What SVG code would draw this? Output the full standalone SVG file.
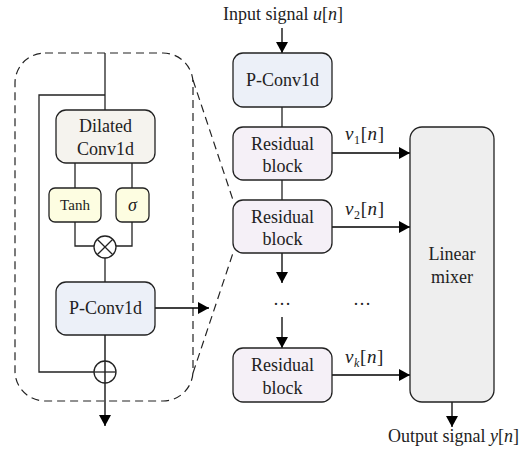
<svg xmlns="http://www.w3.org/2000/svg" width="532" height="451" viewBox="0 0 532 451">
<defs>
<marker id="ah" markerUnits="userSpaceOnUse" markerWidth="12" markerHeight="12" refX="11" refY="6" orient="auto">
<path d="M0,0 L11,6 L0,12 Z" fill="#000"/>
</marker>
<style>
.box{stroke:#222;stroke-width:1.3}
.pc{fill:#ECF0F8}
.rb{fill:#F5F0F7}
.dc{fill:#F5F3EE}
.yl{fill:#FDFDE1}
.lm{fill:#EEEEEE}
text{font-family:"Liberation Serif","Times New Roman",serif;font-size:18px;fill:#222}
.c{text-anchor:middle}
.ln{fill:none;stroke:#222;stroke-width:1.3}
.ar{fill:none;stroke:#000;stroke-width:1.3;marker-end:url(#ah)}
.da{fill:none;stroke:#222;stroke-width:1.2;stroke-dasharray:8 5}
.i{font-style:italic}
.sub{font-size:12px}
.m{font-size:19px;letter-spacing:0.6px}
</style>
</defs>
<g id="dashed-frame">
<rect x="15" y="53" width="178" height="348" rx="30" class="da"/>
<path d="M193,80 L233,200" class="da"/>
<path d="M193,373 L233,253" class="da"/>
</g>
<g id="connectors">
<path d="M105,53 V110" class="ln"/>
<path d="M105,95 H39 V372 H94" class="ln"/>
<path d="M75,163 V188" class="ln"/>
<path d="M132,163 V188" class="ln"/>
<path d="M75,222 V246 H94" class="ln"/>
<path d="M132,222 V246 H116" class="ln"/>
<path d="M105,258 V282" class="ln"/>
<path d="M105,335 V426" class="ar"/>
<path d="M155,308 H209" class="ar"/>
<path d="M282,28 V53" class="ar"/>
<path d="M282,107 V127" class="ln"/>
<path d="M282,180 V200" class="ln"/>
<path d="M282,253 V283" class="ar"/>
<path d="M282,317 V348" class="ar"/>
<path d="M332,153 H410" class="ar"/>
<path d="M332,227 H410" class="ar"/>
<path d="M332,375 H410" class="ar"/>
<path d="M452,402 V427" class="ar"/>
</g>
<g id="dilated-conv1d">
<rect x="56" y="110" width="99" height="53" rx="10" class="box dc"/>
<text x="105.5" y="132" class="c">Dilated</text>
<text x="105.5" y="155" class="c">Conv1d</text>
</g>
<g id="tanh">
<rect x="49" y="188" width="52" height="34" rx="6" class="box yl"/>
<text x="75" y="210" class="c" style="font-size:15px">Tanh</text>
</g>
<g id="sigma">
<rect x="116" y="188" width="33" height="34" rx="6" class="box yl"/>
<text x="132.5" y="211" class="c i">σ</text>
</g>
<g id="multiply">
<circle cx="105" cy="247" r="11" fill="#fff" class="box"/>
<path d="M97.2,239.2 L112.8,254.8 M112.8,239.2 L97.2,254.8" class="ln"/>
</g>
<g id="p-conv1d-left">
<rect x="56" y="282" width="99" height="53" rx="10" class="box pc"/>
<text x="105.5" y="314" class="c">P-Conv1d</text>
</g>
<g id="add">
<circle cx="105" cy="372" r="11" fill="none" class="box"/>
<path d="M94,372 H116" class="ln"/>
</g>
<g id="input-label">
<text x="223" y="20">Input signal <tspan class="i">u</tspan>[<tspan class="i">n</tspan>]</text>
</g>
<g id="p-conv1d">
<rect x="233" y="53" width="99" height="54" rx="10" class="box pc"/>
<text x="282.5" y="86" class="c">P-Conv1d</text>
</g>
<g id="residual-1">
<rect x="233" y="127" width="99" height="53" rx="10" class="box rb"/>
<text x="282.5" y="150" class="c">Residual</text>
<text x="282.5" y="172" class="c">block</text>
</g>
<g id="residual-2">
<rect x="233" y="200" width="99" height="53" rx="10" class="box rb"/>
<text x="282.5" y="223" class="c">Residual</text>
<text x="282.5" y="245" class="c">block</text>
</g>
<g id="dots">
<text x="282" y="305" class="c">…</text>
<text x="362" y="305" class="c">…</text>
</g>
<g id="residual-k">
<rect x="233" y="348" width="99" height="54" rx="10" class="box rb"/>
<text x="282.5" y="371" class="c">Residual</text>
<text x="282.5" y="394" class="c">block</text>
</g>
<g id="labels">
<text x="345" y="140" class="m"><tspan class="i">v</tspan><tspan class="sub" dy="4">1</tspan><tspan dy="-4">[</tspan><tspan class="i">n</tspan>]</text>
<text x="345" y="215" class="m"><tspan class="i">v</tspan><tspan class="sub" dy="4">2</tspan><tspan dy="-4">[</tspan><tspan class="i">n</tspan>]</text>
<text x="345" y="363" class="m"><tspan class="i">v</tspan><tspan class="sub i" dy="4">k</tspan><tspan dy="-4">[</tspan><tspan class="i">n</tspan>]</text>
</g>
<g id="linear-mixer">
<rect x="410" y="127" width="84" height="275" rx="12" class="box lm"/>
<text x="452" y="260" class="c">Linear</text>
<text x="452" y="283" class="c">mixer</text>
</g>
<g id="output-label">
<text x="388" y="442">Output signal <tspan class="i">y</tspan>[<tspan class="i">n</tspan>]</text>
</g>
</svg>
